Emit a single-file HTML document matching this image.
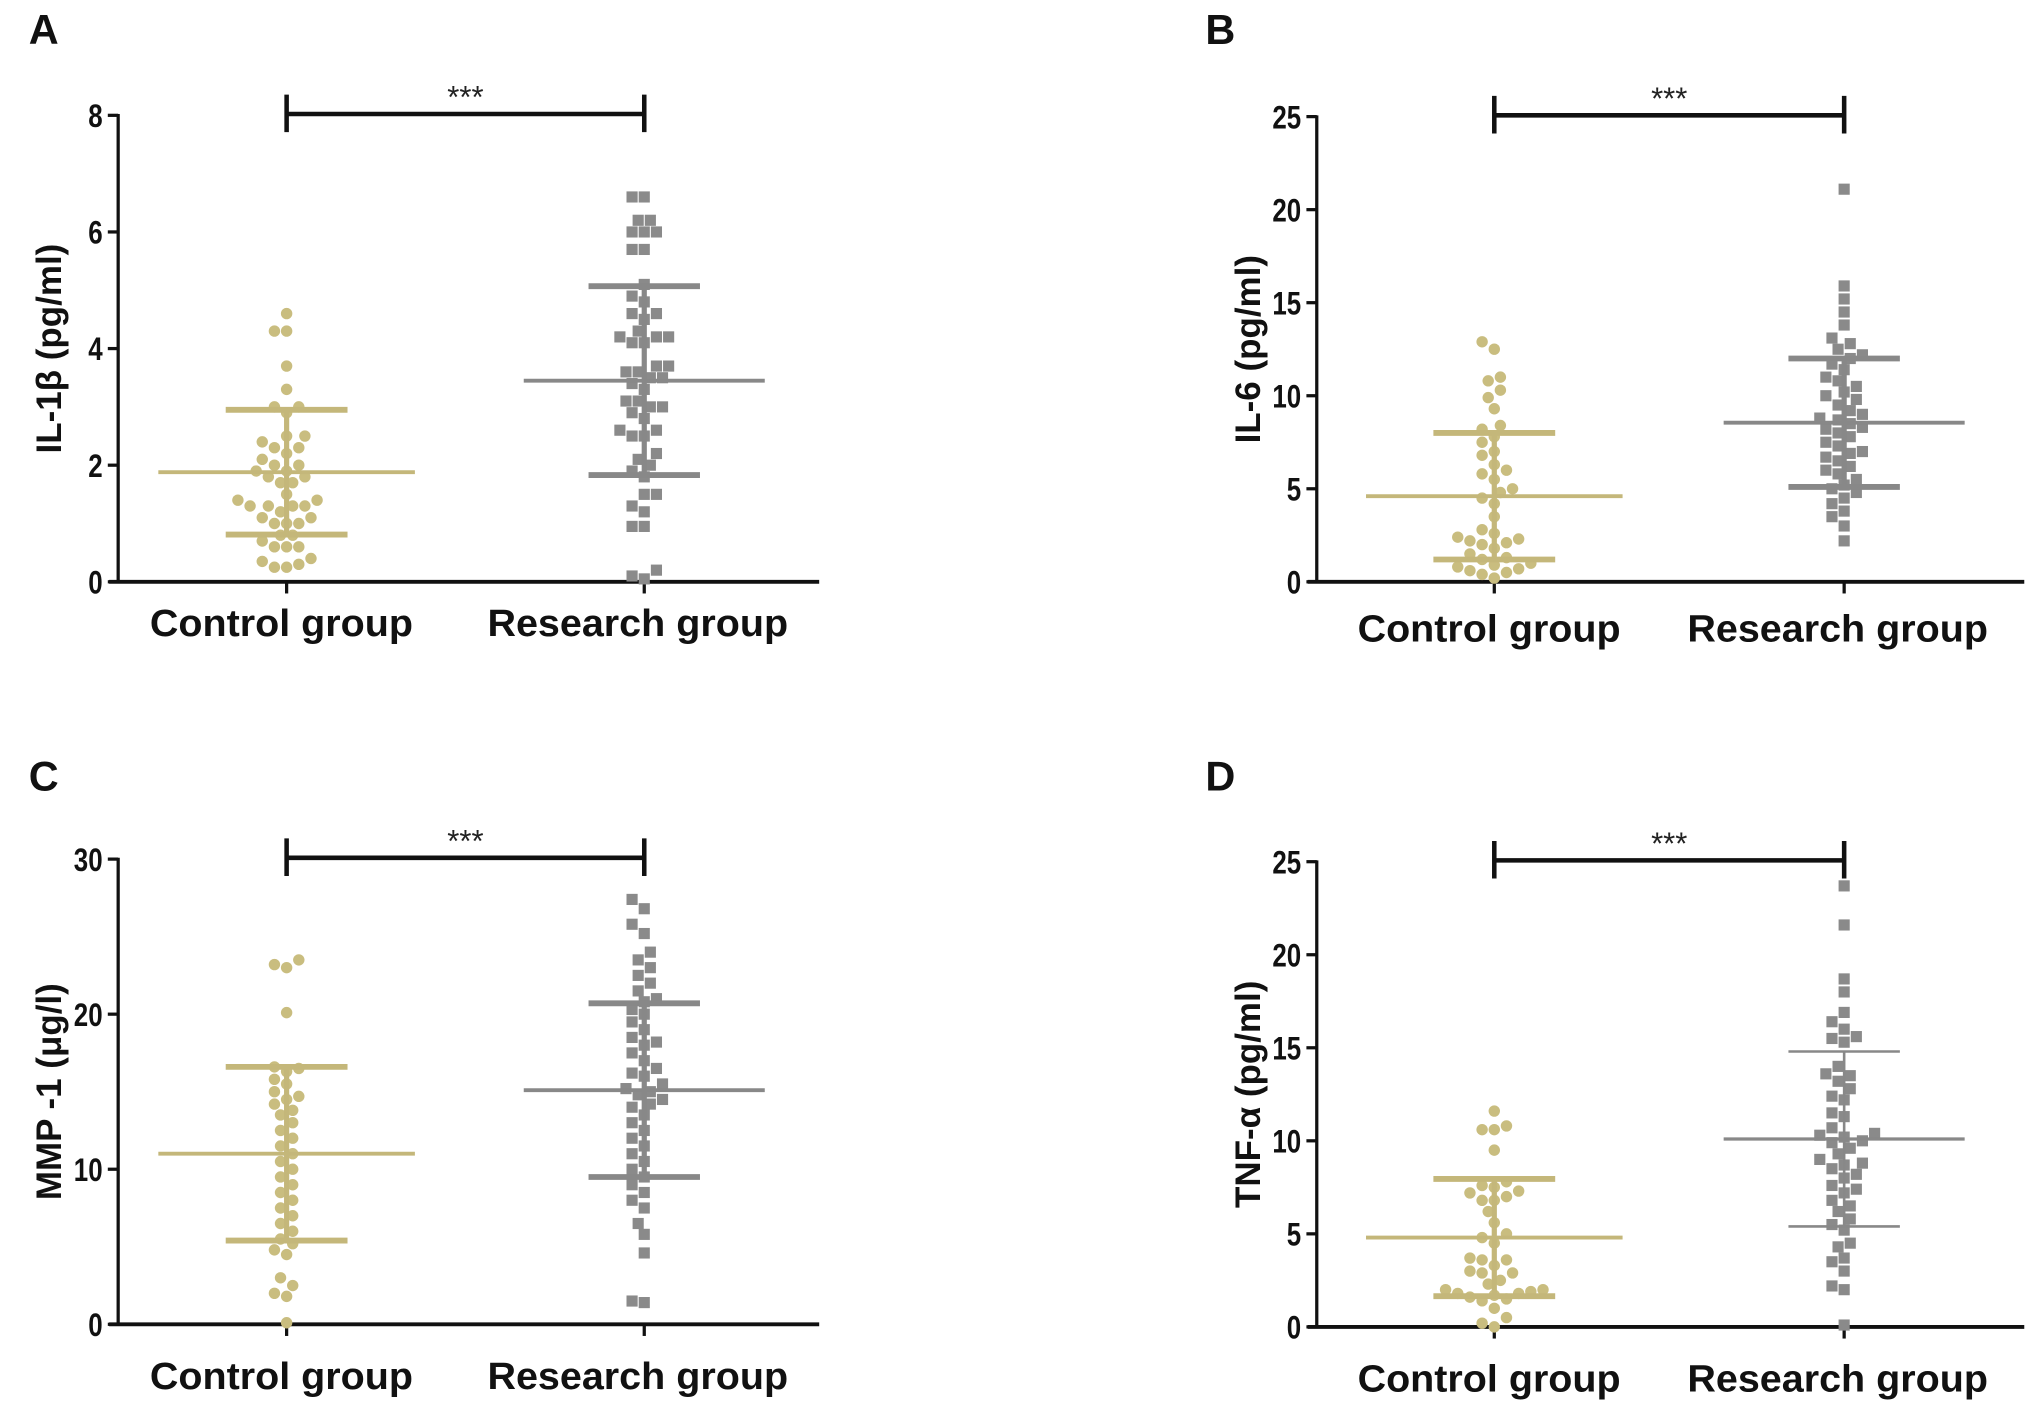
<!DOCTYPE html>
<html><head><meta charset="utf-8"><style>
html,body{margin:0;padding:0;background:#fff;}
svg{display:block;font-family:"Liberation Sans",sans-serif;}
</style></head><body>
<svg id="fig" width="2031" height="1415" viewBox="0 0 1567 1092" xmlns="http://www.w3.org/2000/svg"></svg>
<script>
// Panel A: IL-1beta
const aControl=[4.6,4.3,4.3,3.7,3.3,3.0,3.0,2.9,2.5,2.5,2.4,2.3,2.3,2.2,2.1,2.0,2.0,1.9,1.9,1.8,1.8,1.7,1.7,1.5,1.4,1.4,1.3,1.3,1.3,1.3,1.2,1.1,1.1,1.0,1.0,1.0,0.8,0.8,0.7,0.6,0.6,0.6,0.4,0.35,0.3,0.25,0.25];
const aResearch=[6.6,6.6,6.2,6.2,6.0,6.0,6.0,5.7,5.7,5.1,4.9,4.8,4.6,4.6,4.5,4.3,4.2,4.2,4.2,4.1,4.1,3.7,3.7,3.6,3.6,3.5,3.5,3.4,3.3,3.1,3.1,3.0,3.0,2.9,2.8,2.6,2.6,2.5,2.5,2.2,2.1,2.0,1.9,1.8,1.5,1.5,1.3,1.2,0.95,0.95,0.2,0.1,0.05];
const aMean=[1.88,3.45], aSd=[1.07,1.62];
const aTicks=[0,2,4,6,8];
// Panel B: IL-6
const bControl=[12.9,12.5,11.0,10.8,10.3,9.9,9.3,8.4,8.2,7.8,7.5,7.0,6.8,6.3,6.0,5.8,5.5,5.0,4.8,4.5,4.2,3.5,2.8,2.6,2.4,2.3,2.2,2.1,2.0,1.8,1.5,1.3,1.2,1.0,0.9,0.8,0.7,0.6,0.5,0.4,0.2];
const bResearch=[21.1,15.9,15.2,14.5,13.8,13.1,12.8,12.5,12.2,12.0,11.7,11.4,11.0,10.8,10.5,10.2,10.0,9.8,9.5,9.2,9.0,8.8,8.7,8.5,8.3,8.2,8.0,7.8,7.5,7.3,7.0,6.9,6.7,6.5,6.2,6.0,5.8,5.5,5.2,5.0,4.8,4.5,4.2,3.8,3.5,3.0,2.2];
const bMean=[4.6,8.55], bSd=[3.4,3.45];
const bTicks=[0,5,10,15,20,25];
// Panel C: MMP-1
const cControl=[23.5,23.2,23.0,20.1,16.6,16.5,16.3,15.8,15.5,15.0,14.7,14.5,14.2,13.8,13.5,13.0,12.5,12.0,11.5,11.0,10.5,10.0,9.5,9.0,8.5,8.0,7.5,7.0,6.5,6.0,5.5,5.2,4.8,4.5,3.0,2.5,2.0,1.8,0.1];
const cResearch=[27.4,26.8,25.8,25.2,24.0,23.5,23.0,22.5,22.0,21.5,21.0,20.8,20.3,20.0,19.5,19.0,18.5,18.2,18.0,17.5,17.0,16.5,16.2,16.0,15.5,15.2,15.0,14.8,14.5,14.2,14.0,13.5,13.0,12.5,12.0,11.5,11.0,10.5,10.0,9.5,9.0,8.5,8.0,7.5,6.5,5.8,4.6,1.5,1.4];
const cMean=[11.0,15.1], cSd=[5.6,5.6];
const cTicks=[0,10,20,30];
// Panel D: TNF-alpha
const dControl=[11.6,10.8,10.6,10.6,9.5,7.8,7.6,7.5,7.3,7.2,7.0,6.8,6.8,6.2,5.6,5.0,4.8,4.5,3.7,3.6,3.6,3.3,3.0,2.9,2.9,2.5,2.3,2.0,2.0,1.9,1.8,1.8,1.7,1.6,1.5,1.4,1.0,0.5,0.2,0.0];
const dResearch=[23.7,21.6,18.7,18.0,16.9,16.4,16.0,15.6,15.5,15.3,14.0,13.6,13.5,13.2,12.8,12.4,12.2,11.5,11.3,10.7,10.4,10.3,10.2,10.0,9.9,9.6,9.3,9.0,8.8,8.7,8.5,8.2,8.0,7.6,7.4,7.2,6.8,6.5,6.2,5.8,5.5,5.2,4.5,4.3,3.7,3.5,3.0,2.2,2.0,0.1];
const dMean=[4.8,10.1], dSd=[3.15,4.7];
const dTicks=[0,5,10,15,20,25];
const categories=["Control group","Research group"];

const NS="http://www.w3.org/2000/svg";
const svg=document.getElementById('fig');
function el(tag,attrs,parent){const e=document.createElementNS(NS,tag);for(const k in attrs)e.setAttribute(k,attrs[k]);(parent||svg).appendChild(e);return e;}

const panels=[
 {id:'a',letter:'A',lx:22,ly:34,ax:91,top:89,bot:449,xend:632,cx:[221,497],max:8,ticks:aTicks,data:[aControl,aResearch],mean:aMean,sd:aSd,ylab:'IL-1β (pg/ml)',labY:481,thin:[false,false]},
 {id:'b',letter:'B',lx:930,ly:34,ax:1016,top:90,bot:449,xend:1562,cx:[1153,1423],max:25,ticks:bTicks,data:[bControl,bResearch],mean:bMean,sd:bSd,ylab:'IL-6 (pg/ml)',labY:485,thin:[false,false]},
 {id:'c',letter:'C',lx:22,ly:610,ax:91,top:663,bot:1022,xend:632,cx:[221,497],max:30,ticks:cTicks,data:[cControl,cResearch],mean:cMean,sd:cSd,ylab:'MMP -1 (μg/l)',labY:1062,thin:[false,false]},
 {id:'d',letter:'D',lx:930,ly:610,ax:1016,top:665,bot:1024,xend:1562,cx:[1153,1423],max:25,ticks:dTicks,data:[dControl,dResearch],mean:dMean,sd:dSd,ylab:'TNF-α (pg/ml)',labY:1064,thin:[false,true]}
];
const colors=['#c9bd7f','#8a8a8a'];

panels.forEach(p=>{
  const g=el('g',{});
  
  
  const y=v=>p.bot-(v/p.max)*(p.bot-p.top);
  const t=el('text',{x:p.lx,y:p.ly,'font-size':32,'font-weight':'bold',fill:'#111'},g);t.textContent=p.letter;
  
  const ya=el('line',{x1:p.ax,y1:p.top-1,x2:p.ax,y2:p.bot+1,stroke:'#111','stroke-width':2.5},g);
  
  const xa=el('line',{x1:p.ax-7,y1:p.bot,x2:p.xend,y2:p.bot,stroke:'#111','stroke-width':3},g);
  
  p.ticks.forEach(tv=>{
    el('line',{x1:p.ax-8,y1:y(tv),x2:p.ax,y2:y(tv),stroke:'#111','stroke-width':2.5},g);
    const tl=el('text',{x:p.ax-12,y:y(tv)+9,'font-size':25,'font-weight':'bold','text-anchor':'end',fill:'#111',transform:`translate(${p.ax-12},0) scale(0.8,1) translate(${-(p.ax-12)},0)`},g);
    tl.textContent=tv;
    
  });
  const yl=el('text',{x:0,y:0,'font-size':27,'font-weight':'bold','text-anchor':'middle',fill:'#111',transform:`translate(${p.ax-44},${(p.top+p.bot)/2}) rotate(-90)`},g);
  yl.textContent=p.ylab;
  
  categories.forEach((c,i)=>{
    el('line',{x1:p.cx[i],y1:p.bot,x2:p.cx[i],y2:p.bot+9,stroke:'#111','stroke-width':2.5},g);
    const w=i===0?203:232;
    const ct=el('text',{x:p.cx[i]-w/2+(i===0?-4:-5),y:p.labY+10,'font-size':29,'font-weight':'bold',fill:'#111',textLength:w,lengthAdjust:'spacingAndGlyphs'},g);
    ct.textContent=c;
    
  });
  p.data.forEach((arr,i)=>{
    const pts=[];const d=9.4;
    const sorted=arr.slice().sort((a,b)=>a-b);
    sorted.forEach(v=>{
      const py=y(v);let off=0;
      for(let k=0;k<60;k++){
        const cand=(k%2===0?1:-1)*Math.ceil(k/2)*d*0.5;
        if(pts.every(q=>Math.hypot(q.x-cand,q.y-py)>=d)){off=cand;break;}
      }
      pts.push({x:off,y:py});
      let m;
      if(i===0){m=el('circle',{cx:p.cx[i]+off,cy:py,r:4.4,fill:colors[i]},g);}
      else{m=el('rect',{x:p.cx[i]+off-4.3,y:py-4.3,width:8.6,height:8.6,fill:colors[i]},g);}
      
      
    });
    const sw=p.thin[i]?2:4.5;
    const col=i===0?'#c4b77a':'#888';
    const mw=i===0?99:93, cw=i===0?47:43;
    const hi=y(p.mean[i]+p.sd[i]), lo=y(p.mean[i]-p.sd[i]);
    const v=el('line',{x1:p.cx[i],y1:hi,x2:p.cx[i],y2:lo,stroke:col,'stroke-width':p.thin[i]?2:4},g);
    
    const ml=el('line',{x1:p.cx[i]-mw,y1:y(p.mean[i]),x2:p.cx[i]+mw,y2:y(p.mean[i]),stroke:col,'stroke-width':p.thin[i]?2.5:3},g);
    
    [hi,lo].forEach(yy=>{
      const cap=el('line',{x1:p.cx[i]-cw,y1:yy,x2:p.cx[i]+cw,y2:yy,stroke:col,'stroke-width':sw},g);
      
    });
  });
  const by=p.top-1;
  const br=el('path',{d:`M${p.cx[0]},${by-15} V${by+14} M${p.cx[0]},${by} H${p.cx[1]} M${p.cx[1]},${by-15} V${by+14}`,stroke:'#111','stroke-width':3.5,fill:'none'},g);
  
  const st=el('text',{x:(p.cx[0]+p.cx[1])/2,y:by-5,'font-size':24,'text-anchor':'middle',fill:'#222'},g);
  st.textContent='***';
  
});
</script>
</body></html>
